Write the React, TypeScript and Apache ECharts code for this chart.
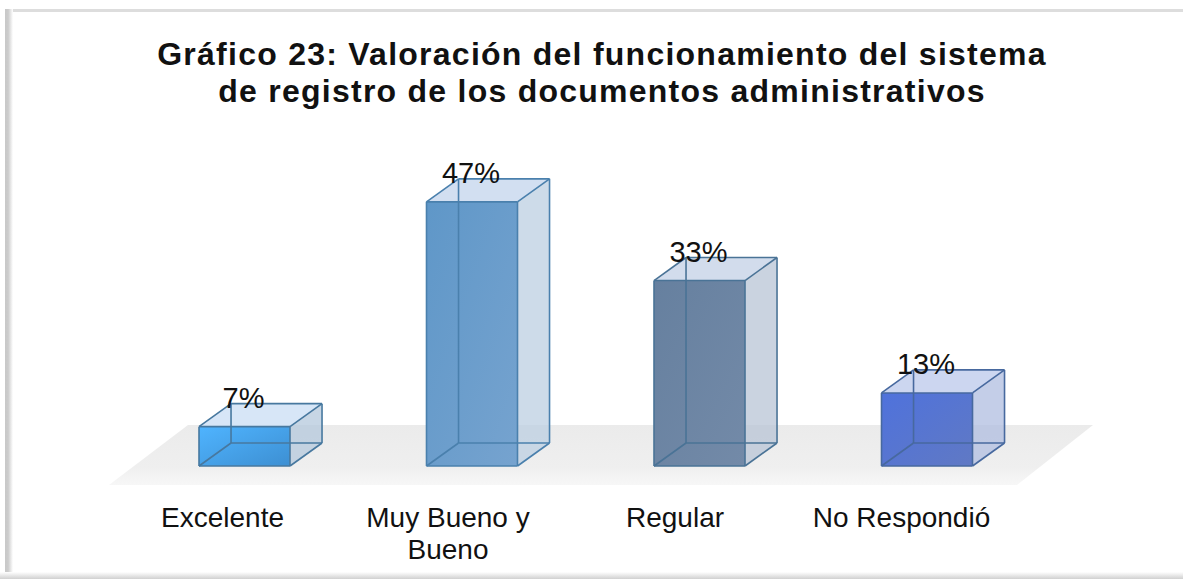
import React, { useEffect, useRef } from "react";
import * as echarts from "echarts";

const categories = ["Excelente", "Muy Bueno y\nBueno", "Regular", "No Respondió"];
const values = [7, 47, 33, 13];
const titleText = "Gráfico 23: Valoración del funcionamiento del sistema\nde registro de los documentos administrativos";

const FONT = '"Liberation Sans", Arial, sans-serif';
const labelShift = [-22, -24, -24.5, -25.5];
const frontColors = [
  ["#4fb4ff", "#3d8fd2"],
  ["#5f97c8", "#76a3cf"],
  ["#66809f", "#738aa8"],
  ["#4f72dc", "#6079c4"],
];
const edgeColors = ["#47789f", "#4a80ad", "#4a7396", "#47699f"];
const topColors = ["#d3e3f6", "#cddcf0", "#cdd8ea", "#c6d2ee"];
const sideColors = ["#b4c8dc", "#bccfe2", "#b8c4d6", "#b0bee0"];

function App() {
  const ref = useRef<HTMLDivElement>(null);
  useEffect(() => {
    const chart = echarts.init(ref.current!, undefined, { renderer: "svg" });
    chart.setOption({
      animation: false,
      backgroundColor: "#ffffff",
      title: {
        text: titleText,
        left: 597,
        top: 30.5,
        textAlign: "center",
        textStyle: { fontFamily: FONT, fontWeight: "bold", fontSize: 32, lineHeight: 37, color: "#111111" },
      },
      grid: { left: 130.75, width: 910, top: 185, height: 281 },
      xAxis: {
        type: "category",
        data: categories.map((c, i) => {
          const s = labelShift[i] * 2;
          return { value: c, textStyle: { padding: s < 0 ? [0, -s, 0, 0] : [0, 0, 0, s] } };
        }),
        axisLine: { show: false },
        axisTick: { show: false },
        axisLabel: { interval: 0, margin: 35, fontFamily: FONT, fontSize: 28, lineHeight: 32, color: "#111111" },
      },
      yAxis: { type: "value", min: 0, max: 50, show: false },
      graphic: [
        { type: "polygon", z: -10, shape: { points: [[188, 425], [1093, 425], [1017, 485], [109, 485]] },
          style: { fill: new echarts.graphic.LinearGradient(0, 0, 0, 1, [
            { offset: 0, color: "#ebebeb" }, { offset: 0.7, color: "#efefef" }, { offset: 1, color: "#f7f7f7" },
          ]) } },
        { type: "rect", z: 50, shape: { x: 5, y: 9, width: 1178, height: 3 }, style: { fill: "#dddddd" } },
        { type: "rect", z: 50, shape: { x: 5, y: 9, width: 8, height: 570 },
          style: { fill: new echarts.graphic.LinearGradient(0, 0, 1, 0, [
            { offset: 0, color: "#c8c8c8" }, { offset: 0.4, color: "#cccccc" }, { offset: 1, color: "#ffffff" },
          ]) } },
        { type: "rect", z: 50, shape: { x: 0, y: 572, width: 1183, height: 7 },
          style: { fill: new echarts.graphic.LinearGradient(0, 0, 0, 1, [
            { offset: 0, color: "#ffffff" }, { offset: 1, color: "#d0d0d0" },
          ]) } },
      ],
      series: [
        {
          type: "custom",
          z: 5,
          data: values.map((v, i) => [i, v]),
          encode: { x: 0, y: 1 },
          renderItem: (params: any, api: any) => {
            const i = params.dataIndex;
            const v = api.value(1);
            const [cx, yTop] = api.coord([i, v]);
            const [, y0] = api.coord([i, 0]);
            const w = api.size([1, 0])[0] * 0.4;
            const dx = w * 0.352;
            const dy = -w * 0.253;
            const l = cx - w / 2;
            const r = cx + w / 2;
            const edge = { stroke: edgeColors[i], lineWidth: 1.6, fill: "none" };
            const line = (x1: number, y1: number, x2: number, y2: number) => ({
              type: "line", shape: { x1, y1, x2, y2 }, style: edge,
            });
            return {
              type: "group",
              children: [
                { type: "polygon", shape: { points: [[l, yTop], [r, yTop], [r + dx, yTop + dy], [l + dx, yTop + dy]] },
                  style: { fill: topColors[i], opacity: 0.9 } },
                { type: "polygon", shape: { points: [[r, yTop], [r + dx, yTop + dy], [r + dx, y0 + dy], [r, y0]] },
                  style: { fill: sideColors[i], opacity: 0.75 } },
                { type: "rect", shape: { x: l, y: yTop, width: w, height: y0 - yTop },
                  style: { fill: new echarts.graphic.LinearGradient(0, 0, 1, 1, [
                    { offset: 0, color: frontColors[i][0] }, { offset: 1, color: frontColors[i][1] },
                  ]) } },
                line(l + dx, yTop + dy, l + dx, y0 + dy),
                line(l + dx, y0 + dy, r + dx, y0 + dy),
                line(l, y0, l + dx, y0 + dy),
                line(l, yTop, r, yTop), line(l, y0, r, y0), line(l, yTop, l, y0), line(r, yTop, r, y0),
                line(l, yTop, l + dx, yTop + dy), line(r, yTop, r + dx, yTop + dy),
                line(l + dx, yTop + dy, r + dx, yTop + dy),
                line(r + dx, yTop + dy, r + dx, y0 + dy), line(r, y0, r + dx, y0 + dy),
                { type: "text", z2: 10, x: cx - 1, y: yTop + dy - 5.5,
                  style: { text: `${v}%`, font: `29px ${FONT}`, fill: "#111111", align: "center", verticalAlign: "middle" } },
              ],
            };
          },
        },
      ],
    });
    // zrender has no letter-spacing option: apply the reference's tracking to the two title lines.
    const titleLines = titleText.split("\n");
    ref.current!.querySelectorAll("text").forEach((t) => {
      if (titleLines.includes(t.textContent || "")) (t as SVGTextElement).style.letterSpacing = "1.25px";
    });
    return () => chart.dispose();
  }, []);
  return <div ref={ref} style={{ position: "absolute", left: 0, top: 0, width: 1183, height: 579 }} />;
}

export default App;
